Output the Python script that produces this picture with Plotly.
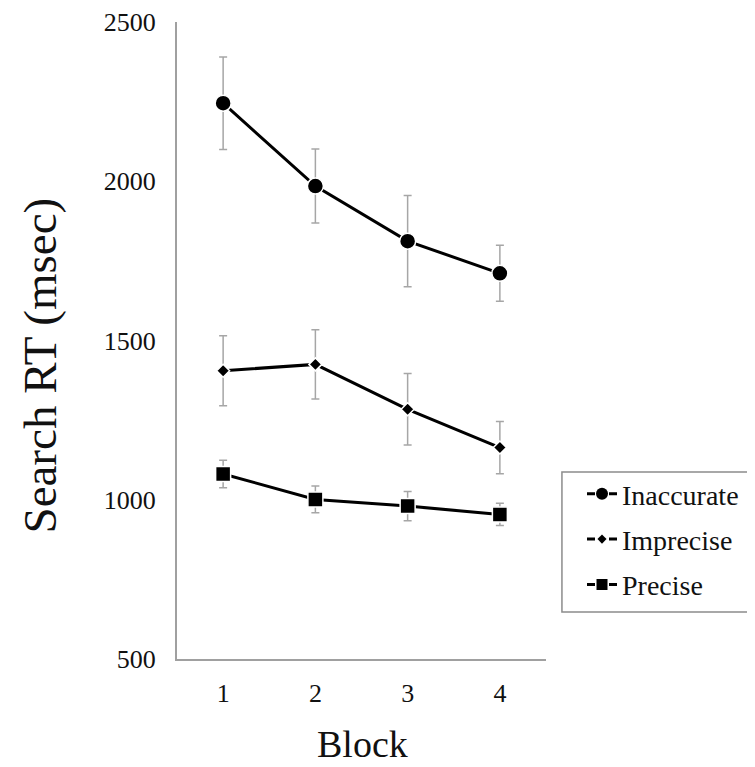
import plotly.graph_objects as go

blocks = [1, 2, 3, 4]
series_names = ["Inaccurate", "Imprecise", "Precise"]
inaccurate_mean = [2245, 1985, 1812, 1711]
inaccurate_err = [145, 116, 143, 88]
imprecise_mean = [1405, 1425, 1284, 1164]
imprecise_err = [110, 109, 112, 82]
precise_mean = [1081, 1001, 980, 954]
precise_err = [43, 42, 46, 35]
y_ticks = [500, 1000, 1500, 2000, 2500]

FONT = "Liberation Serif"

series = [
    (series_names[0], inaccurate_mean, inaccurate_err, "circle", 16, 12),
    (series_names[1], imprecise_mean, imprecise_err, "diamond", 10, 7),
    (series_names[2], precise_mean, precise_err, "square", 15, 11),
]

fig = go.Figure()
for name, mean, err, sym, size, _ in series:
    fig.add_trace(go.Scatter(
        x=blocks, y=mean, mode="lines+markers", name=name, showlegend=False,
        line=dict(color="black", width=3),
        marker=dict(symbol=sym, size=size, color="black", line=dict(color="white", width=1.5)),
        error_y=dict(type="data", array=err, visible=True, color="#a6a6a6", thickness=1.5, width=4),
        cliponaxis=False,
    ))

for i, (name, mean, err, sym, size, lsize) in enumerate(series):
    fig.add_trace(go.Scatter(
        x=[None], y=[None], mode="lines+markers", name=name, legendgroup=name,
        line=dict(color="black", width=3, dash="8px,14px"),
        marker=dict(symbol=sym, size=lsize, color="black"),
    ))

# page is offset by the 8px body margin; plot area spans 370 x 637 px
fig.update_layout(
    width=747, height=759,
    margin=dict(l=169, r=208, t=14, b=108),
    paper_bgcolor="white", plot_bgcolor="white",
    font=dict(family=FONT, color="#111"),
    legend=dict(
        x=1.0946, xanchor="left",
        y=0.2983, yanchor="top",
        borderwidth=0, bgcolor="rgba(0,0,0,0)",
        font=dict(family=FONT, size=28, color="#111"),
        tracegroupgap=6, traceorder="grouped",
        itemsizing="trace",
    ),
    shapes=[dict(
        type="rect", xref="paper", yref="paper",
        x0=1.0432, x1=1.6, y0=0.0738, y1=0.2936,
        line=dict(color="#8c8c8c", width=1.5), fillcolor="rgba(0,0,0,0)",
    )],
    annotations=[
        dict(text="Block", xref="paper", yref="paper", x=0.5027, y=-0.1335,
             xanchor="center", yanchor="middle", showarrow=False,
             font=dict(family=FONT, size=38, color="#111")),
        dict(text="Search RT (msec)", xref="paper", yref="paper", x=-0.370, y=0.4615,
             xanchor="center", yanchor="middle", showarrow=False, textangle=-90,
             font=dict(family=FONT, size=47, color="#111")),
    ],
    xaxis=dict(
        range=[0.5, 4.5], tickvals=blocks, ticktext=[str(b) for b in blocks],
        showgrid=False, zeroline=False, showline=True, linecolor="#a0a0a0", linewidth=2,
        ticks="", tickfont=dict(family=FONT, size=26, color="#111"),
        ticklabelstandoff=10, automargin=False,
    ),
    yaxis=dict(
        range=[500, 2500], tickvals=y_ticks,
        showgrid=False, zeroline=False, showline=True, linecolor="#a0a0a0", linewidth=2,
        ticks="", tickfont=dict(family=FONT, size=26, color="#111"),
        ticklabelstandoff=14, automargin=False,
    ),
)

fig.write_html("out.html")
